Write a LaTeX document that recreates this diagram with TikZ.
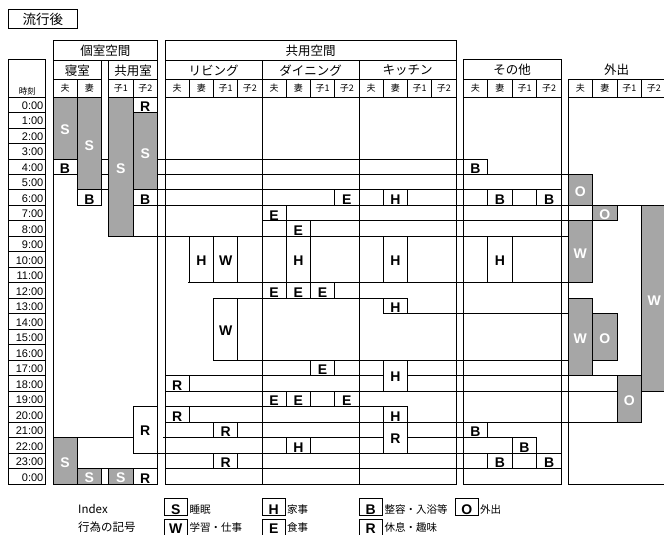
\documentclass[tikz,border=0pt]{standalone}
\usepackage{fontspec}
\setmainfont{Liberation Sans}
\newfontfamily\jp{Noto Sans CJK JP}
\newcommand\hseg[3]{\draw[ln] (#2,{ry(#1)}) -- (#3,{ry(#1)});}
\newcommand\wone[5]{\draw[wfill] (#2,{ry(#4)}) rectangle (#3,{ry(#4+1)});
  \node[blk,anchor=base] (#1) at ({(#2+#3)/2},{ry(#4+1)-0.8}) {#5};}
\newcommand\wmul[6]{\draw[wfill] (#2,{ry(#4)}) rectangle (#3,{ry(#5)});
  \node[blk] (#1) at ({(#2+#3)/2},{(ry(#4)+ry(#5))/2+1}) {#6};}
\newcommand\gone[5]{\draw[gfill] (#2,{ry(#4)}) rectangle (#3,{ry(#4+1)});
  \node[wht,anchor=base] (#1) at ({(#2+#3)/2},{ry(#4+1)-1.5}) {#5};}
\newcommand\gmul[6]{\draw[gfill] (#2,{ry(#4)}) rectangle (#3,{ry(#5)});
  \node[wht] (#1) at ({(#2+#3)/2},{(ry(#4)+ry(#5))/2+2}) {#6};}
\newcommand\subs[3]{%
  \foreach \j/\lab in {0/夫,1/妻,2/子1,3/子2} {
    \draw[ln] ({#2+\j*#3},79) rectangle ({#2+(\j+1)*#3},97);
    \node[sub] (#1\j) at ({#2+(\j+0.5)*#3},88.5) {\lab};}}
\newcommand\legbox[5]{\draw[ln] (#2,#3) rectangle ++(23.5,17);
  \node[blk,anchor=base] (#1) at ({#2+11.75},#4) {#5};}
\begin{document}
\begin{tikzpicture}[x=1pt,y=-1pt,
  ln/.style={line width=0.8pt, black},
  gfill/.style={fill=gray!70, draw=black, line width=0.8pt},
  wfill/.style={fill=white, draw=black, line width=0.8pt},
  blk/.style={font=\fontsize{14}{14}\selectfont\bfseries, inner sep=0pt},
  wht/.style={font=\fontsize{14}{14}\selectfont\bfseries, text=white, inner sep=0pt},
  hdr/.style={font=\jp\fontsize{12.5}{12.5}\selectfont, inner sep=0pt},
  sub/.style={font=\jp\fontsize{9}{9}\selectfont, inner sep=0pt},
  tm/.style={font=\fontsize{11}{11}\selectfont, inner sep=0pt, anchor=base east},
  lg/.style={font=\jp\fontsize{10.5}{10.5}\selectfont, inner sep=0pt, anchor=base west},
  declare function={ry(\k)=97+15.48*\k;}
]
\useasboundingbox (0,0) rectangle (664,535);

% title
\draw[ln] (8,9) rectangle (77,28);
\node[font=\jp\fontsize{13.5}{13.5}\selectfont, inner sep=0pt] (title) at (42.8,19) {流行後};

% time column
\draw[ln] (8,59) rectangle (45,97);
\node[font=\jp\fontsize{8.5}{8.5}\selectfont, inner sep=0pt] (tk) at (27.5,91) {時刻};
\foreach \k in {0,...,24} {\draw[ln] (8,{ry(\k)}) rectangle (45,{ry(\k+1)});}
\foreach \k in {0,...,23} {\node[tm] (t\k) at (43.5,{ry(\k+1)-3}) {\k:00};}
\node[tm] (t24) at (43.5,{ry(25)-3}) {0:00};

% headers: private space
\draw[ln] (53,40) rectangle (157.5,60);
\node[hdr] (hpriv) at (105.25,51) {個室空間};
\draw[ln] (53,60) rectangle (101.7,79);
\node[hdr] (hbed) at (77.35,70.5) {寝室};
\draw[ln] (108.5,60) rectangle (157.5,79);
\node[hdr] (hshr) at (133,70.5) {共用室};
\foreach \a/\b/\lab [count=\i] in {53/77/夫,77/101.7/妻,108.5/133/子1,133/157.5/子2} {
  \draw[ln] (\a,79) rectangle (\b,97);
  \node[sub] (bs\i) at ({(\a+\b)/2},88.5) {\lab};}

% headers: common space
\draw[ln] (165,40) rectangle (456,60);
\node[hdr] (hcom) at (310.5,51) {共用空間};
\draw[ln] (165,60) rectangle (262,79);
\node[hdr] (hliv) at (213.5,70.5) {リビング};
\draw[ln] (262,60) rectangle (359,79);
\node[hdr] (hdin) at (310.5,70.5) {ダイニング};
\draw[ln] (359,60) rectangle (456,79);
\node[hdr] (hkit) at (407.5,70.5) {キッチン};
\subs{ls}{165}{24.25}
\subs{ds}{262}{24.25}
\subs{ks}{359}{24.25}

% headers: other / outing
\draw[ln] (463,59.3) rectangle (561.4,79);
\node[hdr] (hoth) at (512.2,70) {その他};
\subs{os}{463}{24.6}
\node[hdr] (hout) at (616.5,70) {外出};
\subs{xs}{568}{24.5}

% row lines
\hseg{4}{53}{488}
\hseg{5}{53}{569}
\hseg{6}{77}{562}
\hseg{7}{77}{101.7}
\hseg{7}{133}{664}
\hseg{8}{262}{617}
\hseg{9}{108.5}{592}
\hseg{12}{188}{592}
\hseg{13}{213}{408}
\hseg{14}{383}{617}
\hseg{17}{213}{617}
\hseg{18}{165}{642}
\hseg{19}{165}{664}
\hseg{20}{165}{408}
\hseg{21}{165}{642}
\hseg{22}{53}{133}
\hseg{22}{163}{537}
\hseg{23}{157.5}{562}
\hseg{24}{77}{157.5}
\hseg{24}{165}{562}

% bedroom / shared room
\gmul{s1}{53}{77}{0}{4}{S}
\wone{b1}{53}{77}{4}{B}
\gmul{s2}{77}{101.7}{0}{6}{S}
\wone{b2}{77}{101.7}{6}{B}
\gmul{s3}{108.5}{133}{0}{9}{S}
\wone{r1}{133}{157.5}{0}{R}
\gmul{s4}{133}{157.5}{1}{6}{S}
\wone{b3}{133}{157.5}{6}{B}
\wmul{r2}{133}{157.5}{20}{23}{R}
\gmul{s5}{53}{77}{22}{25}{S}
\gone{s6}{77}{101.7}{24}{S}
\gone{s7}{108.5}{133}{24}{S}
\wone{r3}{133}{157.5}{24}{R}

% living
\wmul{lh}{189.25}{213.5}{9}{12}{H}
\wmul{lw1}{213.5}{237.75}{9}{12}{W}
\wmul{lw2}{213.5}{237.75}{13}{17}{W}
\wone{lr1}{165}{189.25}{18}{R}
\wone{lr2}{165}{189.25}{20}{R}
\wone{lr3}{213.5}{237.75}{21}{R}
\wone{lr4}{213.5}{237.75}{23}{R}

% dining
\wone{de1}{334.75}{359}{6}{E}
\wone{de2}{262}{286.25}{7}{E}
\wone{de3}{286.25}{310.5}{8}{E}
\wmul{dh1}{286.25}{310.5}{9}{12}{H}
\wone{de4}{262}{286.25}{12}{E}
\wone{de5}{286.25}{310.5}{12}{E}
\wone{de6}{310.5}{334.75}{12}{E}
\wone{de7}{310.5}{334.75}{17}{E}
\wone{de8}{262}{286.25}{19}{E}
\wone{de9}{286.25}{310.5}{19}{E}
\wone{de10}{334.75}{359}{19}{E}
\wone{dh2}{286.25}{310.5}{22}{H}

% kitchen
\wone{kh1}{383.25}{407.5}{6}{H}
\wmul{kh2}{383.25}{407.5}{9}{12}{H}
\wone{kh3}{383.25}{407.5}{13}{H}
\wmul{kh4}{383.25}{407.5}{17}{19}{H}
\wone{kh5}{383.25}{407.5}{20}{H}
\wmul{kr}{383.25}{407.5}{21}{23}{R}

% other
\wone{ob1}{463}{487.6}{4}{B}
\wone{ob2}{487.6}{512.2}{6}{B}
\wone{ob3}{536.8}{561.4}{6}{B}
\wmul{oh}{487.6}{512.2}{9}{12}{H}
\wone{ob4}{463}{487.6}{21}{B}
\wone{ob5}{512.2}{536.8}{22}{B}
\wone{ob6}{487.6}{512.2}{23}{B}
\wone{ob7}{536.8}{561.4}{23}{B}

% outing
\gmul{xo1}{568}{592.5}{5}{7}{O}
\gone{xo2}{592.5}{617}{7}{O}
\gmul{xw1}{568}{592.5}{8}{12}{W}
\gmul{xw2}{641.5}{667}{7}{19}{W}
\gmul{xw3}{568}{592.5}{13}{18}{W}
\gmul{xo3}{592.5}{617}{14}{17}{O}
\gmul{xo4}{617}{641.5}{18}{21}{O}

% outlines
\draw[ln] (53,97) -- (53,484) -- (157.5,484) -- (157.5,97);
\draw[ln] (101.7,97) -- (101.7,205.4);
\draw[ln] (108.5,97) -- (108.5,236.3);
\draw[ln] (101.7,468.5) -- (101.7,484);
\draw[ln] (108.5,468.5) -- (108.5,484);
\draw[ln] (165,97) rectangle (456,484);
\draw[ln] (262,97) -- (262,484);
\draw[ln] (359,97) -- (359,484);
\draw[ln] (463,97) rectangle (561.4,484);
\draw[ln] (568,97) -- (568,484) -- (667,484);

% legend
\node[font=\jp\fontsize{11.5}{11.5}\selectfont, inner sep=0pt, anchor=base west] (lidx) at (78,513) {Index};
\node[font=\jp\fontsize{11.5}{11.5}\selectfont, inner sep=0pt, anchor=base west] (lsym) at (78,531) {行為の記号};
\legbox{gS}{164}{498.5}{514}{S}
\node[lg] (tS) at (189.5,513) {睡眠};
\legbox{gH}{262}{498.5}{514}{H}
\node[lg] (tH) at (287,513) {家事};
\legbox{gB}{359}{498.5}{514}{B}
\node[lg] (tB) at (384.5,513) {整容・入浴等};
\legbox{gO}{455}{498.5}{514}{O}
\node[lg] (tO) at (480,513) {外出};
\legbox{gW}{164}{519.5}{533.5}{W}
\node[lg] (tW) at (189.5,531.5) {学習・仕事};
\legbox{gE}{262}{519.5}{533.5}{E}
\node[lg] (tE) at (287,531.5) {食事};
\legbox{gR}{359}{519.5}{533.5}{R}
\node[lg] (tR) at (384.5,531.5) {休息・趣味};
\end{tikzpicture}
\end{document}
